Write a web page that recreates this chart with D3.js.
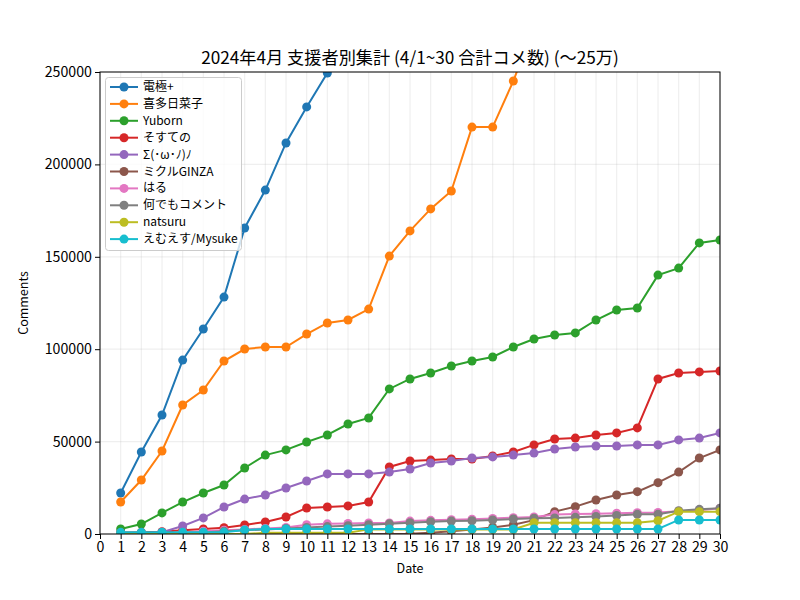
<!DOCTYPE html>
<html><head><meta charset="utf-8">
<script src="https://cdn.jsdelivr.net/npm/d3@7"></script>
<style>
body{margin:0;background:#fff;}
text{font-family:"Noto Sans CJK JP","DejaVu Sans",sans-serif;}
</style></head>
<body><svg id="c" width="800" height="600"></svg>
<script>
const days = d3.range(1, 31);
const xTicks = d3.range(0, 31);
const yTicks = [0, 50000, 100000, 150000, 200000, 250000];
const names = ["電極+","喜多日菜子","Yuborn","そすての","Σ(･ω･ﾉ)ﾉ","ミクルGINZA","はる","何でもコメント","natsuru","えむえす/Mysuke"];
const colors = ["#1f77b4","#ff7f0e","#2ca02c","#d62728","#9467bd","#8c564b","#e377c2","#7f7f7f","#bcbd22","#17becf"];
const s0 = [22200,44400,64400,94100,110900,128200,165600,186100,211600,231100,249400,275000,295000,315000,335000,355000,375000,395000,415000,435000,455000,475000,495000,515000,535000,555000,575000,595000,615000,635000];
const s1 = [17300,29200,44900,69800,77900,93600,100100,101200,101200,108200,114200,115800,121700,150400,164000,175900,185600,220200,220200,245100,275000,290000,305000,320000,335000,350000,365000,380000,395000,410000];
const s2 = [2700,5400,11400,17300,22200,26500,35700,42700,45500,49800,53600,59500,62800,78500,83900,87100,90900,93600,95800,101200,105500,107700,108800,115800,121200,122300,140100,143900,157500,159100];
const s3 = [800,1000,1200,2000,2700,3400,4900,6500,9200,14100,14600,15200,17300,36300,39500,40000,40600,40600,42200,44400,48200,51400,51900,53600,54700,57400,83900,87100,87700,88200];
const s4 = [0,300,1000,4300,8700,14600,18900,21100,24900,28700,32500,32500,32500,33500,35200,38400,39500,41100,41700,42700,43800,46000,47100,47600,47600,48200,48200,50900,51900,54700];
const s5 = [0,0,0,0,0,0,0,0,0,0,0,0,0,0,200,700,1500,2500,3500,5000,7500,12100,14800,18400,21100,22900,27800,33500,41100,45500];
const s6 = [0,0,300,800,1500,2000,2500,3000,3500,5000,5500,5700,6000,6000,7000,7400,7700,8000,8400,8800,9200,10500,10800,11000,11200,11500,11700,12300,12800,14000];
const s7 = [0,0,200,500,800,1500,2000,2500,3000,3500,4000,4500,5000,5500,6100,6650,7000,7200,7600,8100,8500,8700,9000,9500,10000,10650,10650,12600,13350,14000];
const s8 = [0,0,0,0,0,0,0,700,700,700,700,700,2500,2500,2500,2500,2500,2500,2500,2500,6100,6100,6100,6100,6100,6100,7200,12100,12100,12100];
const s9 = [900,900,900,900,900,900,2200,2700,2700,2700,2700,2700,2700,2700,2700,2700,2700,2700,2700,2700,2700,2700,2700,2700,2700,2700,2700,7600,7600,7600];
const series = [s0,s1,s2,s3,s4,s5,s6,s7,s8,s9];

const svg = d3.select("#c");
const L = 100, R = 720, T = 72, B = 534;
const x = d3.scaleLinear().domain([0, 30]).range([L, R]);
const y = d3.scaleLinear().domain([0, 250000]).range([B, T]);

// grid
const g = svg.append("g");
g.selectAll("line.vx").data(xTicks).join("line")
  .attr("x1", d => x(d)).attr("x2", d => x(d)).attr("y1", T).attr("y2", B)
  .attr("stroke", "#b0b0b0").attr("stroke-opacity", 0.2).attr("stroke-width", 1.2);
g.selectAll("line.hy").data(yTicks).join("line")
  .attr("y1", d => y(d)).attr("y2", d => y(d)).attr("x1", L).attr("x2", R)
  .attr("stroke", "#b0b0b0").attr("stroke-opacity", 0.2).attr("stroke-width", 1.2);

svg.append("clipPath").attr("id", "clip").append("rect")
  .attr("x", L).attr("y", T).attr("width", R - L).attr("height", B - T);
const plot = svg.append("g").attr("clip-path", "url(#clip)");
const line = d3.line().x((d, i) => x(days[i])).y(d => y(d));
series.forEach((s, k) => {
  const gg = plot.append("g");
  gg.append("path").attr("d", line(s)).attr("fill", "none")
    .attr("stroke", colors[k]).attr("stroke-width", 2);
  gg.selectAll("circle").data(s).join("circle")
    .attr("cx", (d, i) => x(days[i])).attr("cy", d => y(d)).attr("r", 4.5)
    .attr("fill", colors[k]);
});

// axes
const xa = svg.append("g").attr("transform", `translate(0,${B})`)
  .call(d3.axisBottom(x).tickValues(xTicks).tickFormat(d3.format("d")).tickSize(5).tickPadding(3));
const ya = svg.append("g").attr("transform", `translate(${L},0)`)
  .call(d3.axisLeft(y).tickValues(yTicks).tickFormat(d3.format("d")).tickSize(5).tickPadding(3));
[xa, ya].forEach(a => {
  a.select(".domain").remove();
  a.selectAll("text").attr("font-size", 14.2).attr("fill", "#000")
    .attr("font-family", "'Noto Sans CJK JP', sans-serif");
  a.selectAll("line").attr("stroke", "#000").attr("stroke-width", 1);
});
svg.append("rect").attr("x", L).attr("y", T).attr("width", R - L).attr("height", B - T)
  .attr("fill", "none").attr("stroke", "#000").attr("stroke-width", 1);

svg.append("text").attr("x", (L + R) / 2).attr("y", 64).attr("text-anchor", "middle")
  .attr("font-size", 17.2).text("2024年4月 支援者別集計 (4/1~30 合計コメ数) (〜25万)");
svg.append("text").attr("x", (L + R) / 2).attr("y", 573).attr("text-anchor", "middle")
  .attr("font-size", 12.5).text("Date");
svg.append("text").attr("transform", `translate(28,${(T + B) / 2}) rotate(-90)`)
  .attr("text-anchor", "middle").attr("font-size", 12.5).text("Comments");

// legend
const lg = svg.append("g");
lg.append("rect").attr("x", 105.5).attr("y", 77.5).attr("width", 136).attr("height", 173)
  .attr("rx", 3).attr("fill", "#fff").attr("fill-opacity", 0.8).attr("stroke", "#cccccc");
names.forEach((n, k) => {
  const yy = 87 + k * 16.9;
  lg.append("line").attr("x1", 110).attr("x2", 138).attr("y1", yy).attr("y2", yy)
    .attr("stroke", colors[k]).attr("stroke-width", 2);
  lg.append("circle").attr("cx", 124).attr("cy", yy).attr("r", 4.5).attr("fill", colors[k]);
  lg.append("text").attr("x", 143).attr("y", yy + 4).attr("font-size", 12).text(n);
});
</script></body></html>
